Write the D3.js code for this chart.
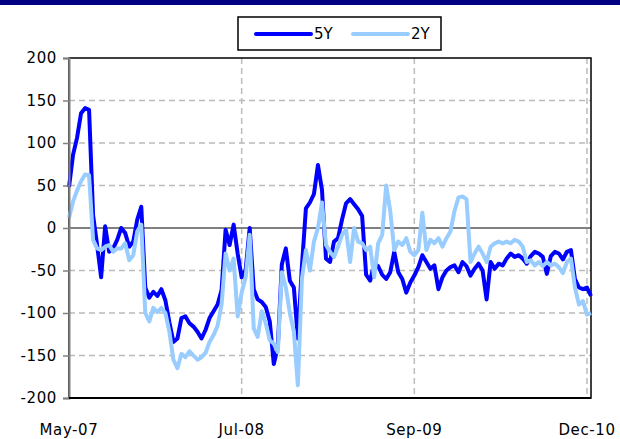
<!DOCTYPE html>
<html><head><meta charset="utf-8">
<script src="https://cdn.jsdelivr.net/npm/d3@7/dist/d3.min.js"></script>
<style>body{margin:0;background:#fff}svg{display:block}</style>
</head><body>
<script>
const seriesNames = ["5Y", "2Y"];
const xTickLabels = ["May-07", "Jul-08", "Sep-09", "Dec-10"];
const xTickIndex = [0, 43, 86, 129];
const yTicks = [200, 150, 100, 50, 0, -50, -100, -150, -200];

const fiveY = [48,86,106,135,141,139,15,-20,-58,2,-28,-24,-14,0,-6,-22,-16,10,25,-70,
-82,-75,-80,-72,-85,-111,-134,-130,-106,-104,-112,-116,-122,-130,-120,-106,-98,-90,-73,-2,
-20,4,-30,-58,-49,0,-72,-84,-87,-93,-110,-160,-140,-43,-24,-62,-70,-130,-45,23,
30,40,74,45,-36,-40,-16,-12,10,29,34,28,22,14,-55,-62,-42,-45,-55,-60,
-52,-28,-52,-60,-76,-64,-56,-46,-32,-40,-48,-44,-72,-58,-50,-46,-44,-52,-40,-45,
-56,-48,-42,-50,-84,-40,-48,-42,-44,-36,-30,-34,-32,-36,-42,-33,-28,-30,-34,-54,
-33,-28,-30,-37,-28,-26,-60,-70,-72,-70,-80];

const twoY = [12,31,44,55,63,62,-14,-24,-26,-22,-20,-28,-24,-24,-18,-38,-32,-4,4,-100,
-110,-94,-99,-94,-100,-122,-155,-165,-148,-152,-145,-150,-155,-152,-147,-134,-126,-115,-90,-30,
-50,-36,-104,-76,-58,-8,-118,-128,-98,-112,-132,-136,-146,-52,-70,-100,-122,-185,-60,-26,
-50,-16,0,30,-20,-28,-34,-22,-8,-2,-40,0,-16,-18,-26,-22,-58,-18,-8,50,
20,-26,-16,-20,-12,-28,-32,-26,18,-26,-14,-18,-12,-22,-12,-4,20,36,37,34,
-40,-30,-22,-30,-40,-22,-18,-16,-18,-16,-18,-14,-16,-22,-40,-38,-44,-40,-45,-40,
-44,-42,-46,-53,-40,-36,-70,-90,-86,-102,-100];

const colors = ["#0000FF", "#99CCFF"];

const W = 620, H = 439;
const L = 69, R = 591, T = 58, B = 398;
const font = "'DejaVu Sans', Verdana, sans-serif";
const fs = 15, ls = "0.6px";

const svg = d3.select("body").append("svg").attr("width", W).attr("height", H);

svg.append("rect").attr("x", 0).attr("y", 0).attr("width", W).attr("height", 5).attr("fill", "#000080");

const x = d3.scaleLinear().domain([0, fiveY.length - 1]).range([L, R]);
const y = d3.scaleLinear().domain([-200, 200]).range([B, T]);

svg.append("g").selectAll("line").data(yTicks.filter(v => v !== 0 && v !== 200 && v !== -200)).join("line")
  .attr("x1", L).attr("x2", R).attr("y1", d => y(d)).attr("y2", d => y(d))
  .attr("stroke", "#BBBBBB").attr("stroke-width", 1.5).attr("stroke-dasharray", "6,4");
svg.append("g").selectAll("line").data(xTickIndex.slice(1)).join("line")
  .attr("x1", d => x(d)).attr("x2", d => x(d)).attr("y1", T).attr("y2", B)
  .attr("stroke", "#BBBBBB").attr("stroke-width", 1.5).attr("stroke-dasharray", "6,4");

svg.append("line").attr("x1", L).attr("x2", R).attr("y1", y(0)).attr("y2", y(0))
  .attr("stroke", "#808080").attr("stroke-width", 2);

svg.append("rect").attr("x", L).attr("y", T).attr("width", R - L).attr("height", B - T)
  .attr("fill", "none").attr("stroke", "#000").attr("stroke-width", 1.5);

const line = d3.line().x((d, i) => x(i)).y(d => y(d));
[fiveY, twoY].forEach((s, k) => {
  svg.append("path").datum(s).attr("d", line).attr("fill", "none")
    .attr("stroke", colors[k]).attr("stroke-width", 4).attr("stroke-linejoin", "round");
});

const yAxis = d3.axisLeft(y).tickValues(yTicks).tickSize(6).tickPadding(6).tickFormat(d => d < 0 ? "-" + Math.abs(d) : d);
const gy = svg.append("g").attr("transform", `translate(${L},0)`).call(yAxis);
gy.select(".domain").attr("stroke", "#808080").attr("stroke-width", 2);
gy.selectAll(".tick line").attr("stroke", "#808080").attr("stroke-width", 1.5);
gy.selectAll("text").attr("font-family", font).attr("font-size", fs).attr("fill", "#000").style("letter-spacing", ls);

svg.append("line").attr("x1", L).attr("x2", R).attr("y1", B).attr("y2", B).attr("stroke", "#000").attr("stroke-width", 2);
svg.append("g").selectAll("text").data(xTickIndex).join("text")
  .attr("x", d => x(d)).attr("y", 435).attr("text-anchor", "middle")
  .attr("font-family", font).attr("font-size", fs).attr("fill", "#000").style("letter-spacing", ls)
  .text((d, i) => xTickLabels[i]);

const lg = svg.append("g");
lg.append("rect").attr("x", 238).attr("y", 17).attr("width", 203).attr("height", 33)
  .attr("fill", "#fff").attr("stroke", "#000").attr("stroke-width", 1.5);
const legX = [256, 353];
seriesNames.forEach((n, k) => {
  lg.append("line").attr("x1", legX[k]).attr("x2", legX[k] + 55).attr("y1", 34).attr("y2", 34)
    .attr("stroke", colors[k]).attr("stroke-width", 4).attr("stroke-linecap", "round");
  lg.append("text").attr("x", legX[k] + 58).attr("y", 39).attr("font-family", font)
    .attr("font-size", fs).attr("fill", "#000").text(n);
});
</script>
</body></html>
